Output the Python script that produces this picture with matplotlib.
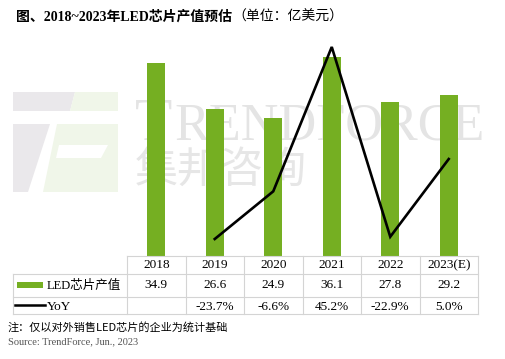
import numpy as np
import matplotlib
matplotlib.use("Agg")
import matplotlib.pyplot as plt
from matplotlib.patches import Polygon, Rectangle
from matplotlib.lines import Line2D

years = ["2018", "2019", "2020", "2021", "2022", "2023(E)"]
values = [34.9, 26.6, 24.9, 36.1, 27.8, 29.2]
yoy = [np.nan, -23.7, -6.6, 45.2, -22.9, 5.0]
value_labels = ["34.9", "26.6", "24.9", "36.1", "27.8", "29.2"]
yoy_labels = ["", "-23.7%", "-6.6%", "45.2%", "-22.9%", "5.0%"]

title_bold = "图、2018~2023年LED芯片产值预估"
title_reg = "（单位：亿美元）"
note = "注：仅以对外销售LED芯片的企业为统计基础"
source = "Source: TrendForce, Jun., 2023"

W, H = 505, 359
fig = plt.figure(figsize=(W / 100, H / 100), dpi=100)
fig.patch.set_facecolor("white")

def fx(x):
    return x / W

def fy(y):
    return 1 - y / H

SERIF = ["Liberation Serif", "Noto Sans CJK SC"]
CJK = ["Noto Sans CJK SC", "DejaVu Sans"]
GREEN = "#75af22"

# --- watermark logo (figure coords) ---
def poly(pts, color):
    p = Polygon([(fx(a), fy(b)) for a, b in pts], closed=True, transform=fig.transFigure,
                facecolor=color, edgecolor="none", zorder=-5)
    fig.patches.append(p)

LG = "#eae8eb"
LGR = "#f0f6e9"
poly([(13, 92), (75, 92), (70, 111), (13, 111)], LG)
poly([(75, 92), (118, 92), (118, 111), (70, 111)], LGR)
poly([(13, 124), (50, 124), (28, 192), (13, 192)], LG)
poly([(57, 124), (118, 124), (118, 192), (43, 192)], LGR)
poly([(59, 145), (108, 145), (101, 158), (56, 158)], "white")

fig.text(fx(135), fy(140), "T", fontsize=44, family="Liberation Serif", color="#e4e4e4",
         ha="left", va="baseline", zorder=-5)
fig.text(fx(174), fy(140), "RENDFORCE", fontsize=37.5, family="Liberation Serif", color="#e4e4e4",
         ha="left", va="baseline", zorder=-5)
fig.text(fx(135), fy(171), "集邦咨询", fontsize=31, family=CJK, color="#e6e6e6",
         ha="left", va="center", zorder=-5)

# --- main axes ---
ax_l, ax_r, ax_t, ax_b = 127, 478, 40, 256
ax = fig.add_axes([fx(ax_l), fy(ax_b), (ax_r - ax_l) / W, (ax_b - ax_t) / H])
ax.set_facecolor("none")
x = np.arange(len(years))
ax.bar(x, values, width=0.31, color=GREEN, zorder=2)
ax.set_xlim(-0.5, len(years) - 0.5)
ax.set_ylim(0, 39.1)
ax.axis("off")

ax2 = ax.twinx()
ax2.plot(x, yoy, color="black", lw=1.9, zorder=3, solid_joinstyle="miter")
ax2.set_ylim(-29.8, 47.7)
ax2.set_xlim(-0.5, len(years) - 0.5)
ax2.axis("off")

# --- table ---
LC = "#d4d4d4"
def hline(y, x0, x1):
    fig.add_artist(Line2D([fx(x0), fx(x1)], [fy(y), fy(y)], transform=fig.transFigure, color=LC, lw=0.8))

def vline(x0, y0, y1):
    fig.add_artist(Line2D([fx(x0), fx(x0)], [fy(y0), fy(y1)], transform=fig.transFigure, color=LC, lw=0.8))

r0, r1, r2, r3 = 256, 274, 297, 314
hline(r0, ax_l, ax_r)
hline(r1, 13, ax_r)
hline(r2, 13, ax_r)
hline(r3, 13, ax_r)
vline(13, r1, r3)
colw = (ax_r - ax_l) / len(years)
for i in range(len(years) + 1):
    vline(ax_l + i * colw, r0, r3)

for i in range(len(years)):
    cx = fx(ax_l + colw * (i + 0.5))
    fig.text(cx, fy((r0 + r1) / 2), years[i], fontsize=9.5, family=SERIF, ha="center", va="center")
    fig.text(cx, fy((r1 + r2) / 2), value_labels[i], fontsize=9.5, family=SERIF, ha="center", va="center")
    fig.text(cx, fy((r2 + r3) / 2 + 1), yoy_labels[i], fontsize=9.5, family=SERIF, ha="center", va="center")

fig.patches.append(Rectangle((fx(17), fy(288)), (43 - 17) / W, 6 / H, transform=fig.transFigure,
                             facecolor=GREEN, edgecolor="none"))
fig.text(fx(47), fy((r1 + r2) / 2), "LED芯片产值", fontsize=9, family=SERIF, ha="left", va="center")
fig.add_artist(Line2D([fx(15), fx(45)], [fy(305), fy(305)], transform=fig.transFigure, color="black", lw=1.8))
fig.text(fx(47), fy((r2 + r3) / 2 + 1), "YoY", fontsize=9.5, family=SERIF, ha="left", va="center")

# --- title & notes ---
t = fig.text(fx(16), fy(17), title_bold, fontsize=10, family=["Liberation Serif", "Noto Sans CJK SC"],
             fontweight="bold", ha="left", va="center")
fig.canvas.draw()
bb = t.get_window_extent()
fig.text(bb.x1 / W, fy(17), title_reg, fontsize=10, family=CJK, ha="left", va="center")

fig.text(fx(8), fy(327), note, fontsize=8, family=CJK, ha="left", va="center")
fig.text(fx(8), fy(342), source, fontsize=7.5, family="Liberation Serif", color="#555555",
         ha="left", va="center")

fig.savefig("out.png", dpi=100)
